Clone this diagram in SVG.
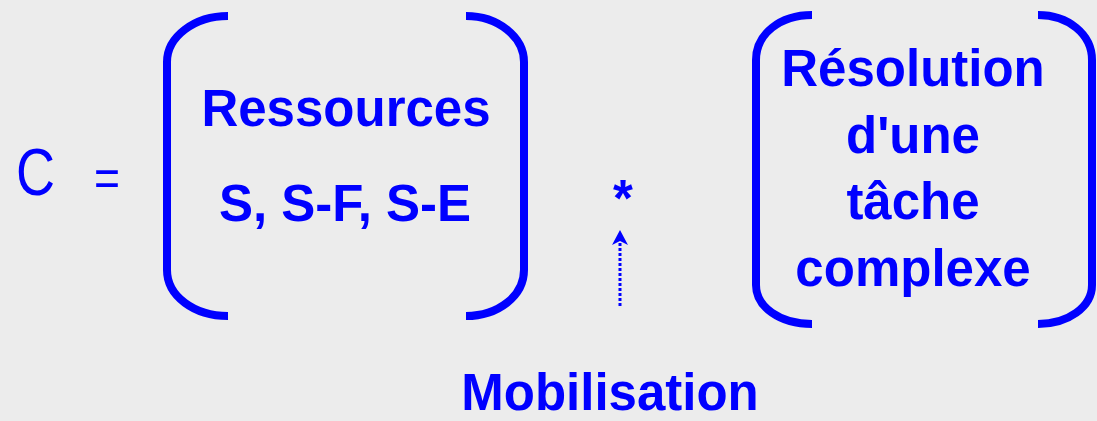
<svg xmlns="http://www.w3.org/2000/svg" width="1097" height="421" viewBox="0 0 1097 421">
<defs>
<style>
.t{font-family:"Liberation Sans",Arial,sans-serif;font-weight:bold;font-size:51px;fill:#0000ff;text-anchor:middle}
.r{font-family:"Liberation Sans",Arial,sans-serif;fill:#0000ff}
.br{fill:none;stroke:#0000ff;stroke-width:8}
</style>
</defs>
<rect width="1097" height="421" fill="#ececec"/>
<g id="lhs">
<text class="r" x="16" y="195" font-size="67" textLength="39" lengthAdjust="spacingAndGlyphs">C</text>
<text class="r" x="94" y="196" font-size="52" textLength="26" lengthAdjust="spacingAndGlyphs">=</text>
</g>
<g id="ressources">
<path class="br" d="M228,16 C194,16 167,37 167,62 L167,270 C167,296 194,316 228,316"/>
<path class="br" d="M466,16 C498,16 524,37 524,62 L524,270 C524,296 498,316 466,316"/>
<text class="t" x="346" y="126">Ressources</text>
<text class="t" x="345" y="221">S, S-F, S-E</text>
</g>
<g id="star">
<text class="t" x="623" y="216" font-size="40">*</text>
</g>
<g id="tache">
<path class="br" d="M812,15 C780,15 756,34 756,60 L756,285 C756,307 780,324 812,324"/>
<path class="br" d="M1038,15 C1068,15 1092,34 1092,60 L1092,285 C1092,307 1068,324 1038,324"/>
<text class="t" x="913" y="86">Résolution</text>
<text class="t" x="913" y="153">d'une</text>
<text class="t" x="913" y="219">tâche</text>
<text class="t" x="913" y="286">complexe</text>
</g>
<g id="connectors">
<line x1="620" y1="306" x2="620" y2="238" stroke="#0000ff" stroke-width="3" stroke-dasharray="3,2"/>
<path d="M612,245 L620,230 L628,245 L620,241 Z" fill="#0000ff"/>
</g>
<g id="mobilisation">
<text class="t" x="610" y="410" font-size="51">Mobilisation</text>
</g>
</svg>
